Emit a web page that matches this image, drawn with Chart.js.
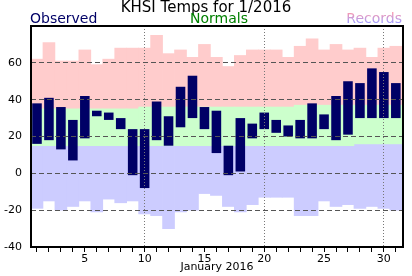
<!DOCTYPE html>
<html>
<head>
<meta charset="utf-8">
<title>KHSI Temps for 1/2016</title>
<script src="https://cdn.jsdelivr.net/npm/chart.js@4/dist/chart.umd.min.js"></script>
<style>
    html, body { margin: 0; padding: 0; background: #ffffff; }
    #chartBox { width: 412px; height: 276px; }
</style>
</head>
<body>
<div id="chartBox"><canvas id="tempChart" width="412" height="276"></canvas></div>
<script>
// ============================================
// DATA
// ============================================
const days = [1, 2, 3, 4, 5, 6, 7, 8, 9, 10, 11, 12, 13, 14, 15, 16,
              17, 18, 19, 20, 21, 22, 23, 24, 25, 26, 27, 28, 29, 30, 31];

const observedHigh = [38, 41, 36, 29, 42, 34, 33, 30, 24, 24, 39, 31, 47, 53, 36, 34,
                      15, 30, 27, 33, 29, 26, 29, 38, 32, 42, 50, 49, 57, 55, 49];
const observedLow = [16, 18, 13, 7, 19, 31, 29, 24, -1, -8, 18, 15, 25, 30, 24, 11,
                     -1, 1, 19, 24, 22, 20, 19, 19, 24, 18, 21, 30, 30, 30, 30];

const normalHigh = [35, 35, 35, 35, 35, 35, 35, 35, 35, 36, 36, 36, 36, 36, 36, 36,
                    36, 36, 36, 36, 36, 36, 37, 37, 37, 37, 37, 37, 37, 37, 37];
const normalLow = [15, 15, 15, 15, 15, 15, 15, 15, 15, 15, 15, 15, 15, 15, 15, 15,
                   15, 15, 15, 15, 15, 15, 15, 15, 15, 15, 15, 16, 16, 16, 16];

const recordHigh = [62, 71, 61, 61, 67, 59, 62, 68, 68, 68, 75, 65, 67, 63, 70, 63,
                    58, 64, 67, 67, 67, 63, 69, 73, 67, 70, 67, 68, 63, 68, 69];
const recordLow = [-19, -15, -20, -18, -15, -21, -14, -16, -15, -22, -23, -30, -21, -20, -11, -12,
                   -18, -21, -17, -13, -13, -13, -23, -23, -15, -18, -17, -19, -18, -19, -20];

const yTicks = [-40, -20, 0, 20, 40, 60];
const xLabelDays = [5, 10, 15, 20, 25, 30];
const xGridDays = [10, 20, 30];

// ============================================
// HELPERS
// ============================================
function floatingBars(lows, highs) {
    return days.map((d, i) => ({ x: d, y: [lows[i], highs[i]] }));
}

// Header text + box around the plot area
const frameAndHeader = {
    id: "frameAndHeader",
    afterDraw(chart) {
        const ctx = chart.ctx;
        const area = chart.chartArea;

        ctx.save();
        ctx.strokeStyle = "#000000";
        ctx.lineWidth = 2;
        ctx.strokeRect(area.left, area.top, area.right - area.left, area.bottom - area.top);

        ctx.textBaseline = "alphabetic";
        ctx.font = "15px 'DejaVu Sans'";
        ctx.fillStyle = "#000000";
        ctx.textAlign = "center";
        ctx.fillText("KHSI Temps for 1/2016", chart.width / 2, 12);

        ctx.font = "14px 'DejaVu Sans'";
        ctx.textAlign = "left";
        ctx.fillStyle = "#000066";
        ctx.fillText("Observed", area.left - 1, 23);

        ctx.textAlign = "center";
        ctx.fillStyle = "#008000";
        ctx.fillText("Normals", (area.left + area.right) / 2 + 2, 23);

        const grad = ctx.createLinearGradient(0, 12, 0, 23);
        grad.addColorStop(0, "#ff99aa");
        grad.addColorStop(1, "#a09cff");
        ctx.textAlign = "right";
        ctx.fillStyle = grad;
        ctx.fillText("Records", area.right - 1, 23);
        ctx.restore();
    }
};

// ============================================
// CHART
// ============================================
const ctx = document.getElementById("tempChart").getContext("2d");

new Chart(ctx, {
    type: "bar",
    data: {
        datasets: [
            {
                label: "Observed",
                data: floatingBars(observedLow, observedHigh),
                backgroundColor: "#000066",
                barPercentage: 0.8,
                categoryPercentage: 1,
                grouped: false,
                order: 0
            },
            {
                label: "Normals",
                data: floatingBars(normalLow, normalHigh),
                backgroundColor: "#ccffcc",
                barPercentage: 1,
                categoryPercentage: 1,
                grouped: false,
                order: 1
            },
            {
                label: "Records high",
                data: floatingBars(normalHigh, recordHigh),
                backgroundColor: "#ffcccc",
                barPercentage: 1,
                categoryPercentage: 1,
                grouped: false,
                order: 2
            },
            {
                label: "Records low",
                data: floatingBars(recordLow, normalLow),
                backgroundColor: "#ccccff",
                barPercentage: 1,
                categoryPercentage: 1,
                grouped: false,
                order: 2
            }
        ]
    },
    options: {
        responsive: false,
        animation: false,
        layout: { padding: { top: 26, right: 9, left: 0, bottom: 0 } },
        plugins: {
            legend: { display: false },
            title: { display: false },
            tooltip: { enabled: false }
        },
        scales: {
            x: {
                type: "linear",
                min: 0.5,
                max: 31.6,
                offset: false,
                afterFit: scale => { scale.height = 29; },
                afterBuildTicks: axis => { axis.ticks = days.map(d => ({ value: d })); },
                grid: {
                    offset: false,
                    z: 1,
                    color: c => xGridDays.includes(c.tick.value) ? "#777777" : "rgba(0,0,0,0)",
                    lineWidth: 1,
                    drawTicks: true,
                    tickLength: 5,
                    tickColor: "#000000",
                    tickWidth: 1
                },
                border: { display: false, dash: [1, 2] },
                ticks: {
                    autoSkip: false,
                    maxRotation: 0,
                    padding: 1,
                    color: "#000000",
                    font: { family: "'DejaVu Sans'", size: 11 },
                    callback: value => xLabelDays.includes(value) ? String(value) : ""
                },
                title: {
                    display: true,
                    text: "January 2016",
                    color: "#000000",
                    font: { family: "'DejaVu Sans'", size: 11 },
                    padding: { top: 0, bottom: 2 }
                }
            },
            y: {
                min: -40,
                max: 80,
                afterFit: scale => { scale.width = 31; },
                afterBuildTicks: axis => { axis.ticks = yTicks.map(v => ({ value: v })); },
                grid: {
                    z: 1,
                    color: c => (c.tick.value > -40 && c.tick.value < 80) ? "#555555" : "rgba(0,0,0,0)",
                    lineWidth: 1,
                    drawTicks: false
                },
                border: { display: false, dash: [5, 3] },
                ticks: {
                    padding: 9,
                    color: "#000000",
                    font: { family: "'DejaVu Sans'", size: 11 }
                }
            }
        }
    },
    plugins: [frameAndHeader]
});
</script>
</body>
</html>
